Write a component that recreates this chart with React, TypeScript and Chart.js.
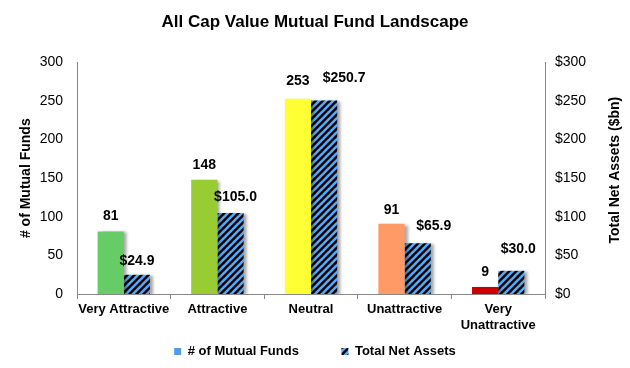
import React, { useEffect, useRef } from "react";
import { Chart, registerables } from "chart.js";

Chart.register(...registerables);

const categories: (string | string[])[] = [
  "Very Attractive",
  "Attractive",
  "Neutral",
  "Unattractive",
  ["Very", "Unattractive"],
];
const fundCounts = [81, 148, 253, 91, 9];
const netAssets = [24.9, 105.0, 250.7, 65.9, 30.0];
const leftTicks = [0, 50, 100, 150, 200, 250, 300];
const rightTicks = [0, 50, 100, 150, 200, 250, 300];
const barColors = ["#66CC66", "#99CC33", "#FFFF33", "#FF9966", "#CC0000"];

const FONT = "Arial, 'Liberation Sans', sans-serif";

function makeHatch(): CanvasPattern | string {
  const c = document.createElement("canvas");
  const s = 7;
  c.width = s;
  c.height = s;
  const ctx = c.getContext("2d");
  if (!ctx) return "#000";
  ctx.fillStyle = "#000000";
  ctx.fillRect(0, 0, s, s);
  ctx.strokeStyle = "#5AA8F5";
  ctx.lineWidth = 2.6;
  for (const k of [-s, 0, s]) {
    ctx.beginPath();
    ctx.moveTo(k - 1, s + 1);
    ctx.lineTo(k + s + 1, -1);
    ctx.stroke();
  }
  const p = ctx.createPattern(c, "repeat");
  return p || "#000";
}

const shadowPlugin = {
  id: "barShadow",
  beforeDatasetDraw(chart: any) {
    const ctx = chart.ctx;
    ctx.save();
    ctx.shadowColor = "rgba(0,0,0,0.35)";
    ctx.shadowBlur = 3;
    ctx.shadowOffsetX = 3;
    ctx.shadowOffsetY = 1;
  },
  afterDatasetDraw(chart: any) {
    chart.ctx.restore();
  },
};

const valueLabelPlugin = {
  id: "valueLabels",
  afterDatasetsDraw(chart: any, _args: any, opts: any) {
    const ctx = chart.ctx;
    ctx.save();
    ctx.font = `bold 14px ${FONT}`;
    ctx.fillStyle = "#000";
    ctx.textAlign = "center";
    ctx.textBaseline = "middle";
    chart.data.datasets.forEach((ds: any, di: number) => {
      const meta = chart.getDatasetMeta(di);
      const nudges = (opts.nudges && opts.nudges[di]) || [];
      meta.data.forEach((el: any, i: number) => {
        const v = ds.data[i];
        const txt = di === 0 ? String(v) : "$" + Number(v).toFixed(1);
        const n = nudges[i] || [0, 0];
        ctx.fillText(txt, el.x + n[0], el.y - 15 + n[1]);
      });
    });
    ctx.restore();
  },
};

const rightTitlePlugin = {
  id: "rightTitle",
  afterDraw(chart: any, _args: any, opts: any) {
    const ctx = chart.ctx;
    const s = chart.scales.y1;
    const area = chart.chartArea;
    ctx.save();
    ctx.font = `bold 14px ${FONT}`;
    ctx.fillStyle = "#000";
    ctx.textAlign = "center";
    ctx.textBaseline = "middle";
    ctx.translate(s.right - 15, (area.top + area.bottom) / 2 - 8);
    ctx.rotate(-Math.PI / 2);
    ctx.fillText(opts.text, 0, 0);
    ctx.restore();
  },
};

export default function App() {
  const ref = useRef<HTMLCanvasElement | null>(null);
  useEffect(() => {
    if (!ref.current) return;
    const hatch = makeHatch();
    const chart = new Chart(ref.current, {
      type: "bar",
      data: {
        labels: categories,
        datasets: [
          {
            label: "# of Mutual Funds",
            data: fundCounts,
            backgroundColor: barColors,
            yAxisID: "y",
            categoryPercentage: 0.56,
            barPercentage: 1,
          },
          {
            label: "Total Net Assets",
            data: netAssets,
            backgroundColor: hatch as any,
            yAxisID: "y1",
            categoryPercentage: 0.56,
            barPercentage: 1,
          },
        ],
      },
      options: {
        animation: false,
        responsive: false,
        maintainAspectRatio: false,
        layout: { padding: { left: 0, right: 0, top: 0, bottom: 0 } },
        plugins: {
          title: {
            display: true,
            text: "All Cap Value Mutual Fund Landscape",
            color: "#000",
            font: { family: FONT, size: 17, weight: "bold" },
            padding: { top: 12, bottom: 30 },
          },
          legend: {
            position: "bottom",
            labels: {
              color: "#000",
              font: { family: FONT, size: 13, weight: "bold" },
              boxWidth: 7,
              boxHeight: 7,
              padding: 10,
              generateLabels: () => [
                {
                  text: "# of Mutual Funds         ",
                  fillStyle: "#5599EE",
                  strokeStyle: "#5599EE",
                  lineWidth: 0,
                  datasetIndex: 0,
                  hidden: false,
                },
                {
                  text: "Total Net Assets",
                  fillStyle: hatch,
                  strokeStyle: "#000",
                  lineWidth: 0,
                  datasetIndex: 1,
                  hidden: false,
                },
              ],
            },
          },
          tooltip: { enabled: false },
          valueLabels: {
            nudges: [
              [[0, 0], [0, 0], [0, -3], [0, 1], [0, 0]],
              [[0, 1], [5, -1], [20, -7], [16, -2], [7, -7]],
            ],
          },
          rightTitle: { text: "Total Net Assets ($bn)" },
        } as any,
        scales: {
          x: {
            grid: {
              display: true,
              drawOnChartArea: false,
              drawTicks: true,
              tickLength: 5,
              color: "#888",
            },
            border: { display: true, color: "#888", width: 1 },
            ticks: {
              color: "#000",
              font: { family: FONT, size: 13, weight: "bold" },
              padding: 3,
              maxRotation: 0,
              autoSkip: false,
            },
            afterFit: (s: any) => {
              s.height = 41;
            },
          },
          y: {
            position: "left",
            min: 0,
            max: 300,
            afterBuildTicks: (s: any) => {
              s.ticks = leftTicks.map((v) => ({ value: v }));
            },
            grid: { display: false, drawTicks: false },
            border: { display: true, color: "#888", width: 1 },
            ticks: {
              color: "#000",
              font: { family: FONT, size: 14 },
              padding: 14,
              callback: (v: any) => String(v),
            },
            title: {
              display: true,
              text: "# of Mutual Funds",
              color: "#000",
              font: { family: FONT, size: 14, weight: "bold" },
              padding: { top: 18, bottom: 0 },
            },
            afterFit: (s: any) => {
              s.width = 77;
            },
          },
          y1: {
            position: "right",
            min: 0,
            max: 300,
            afterBuildTicks: (s: any) => {
              s.ticks = rightTicks.map((v) => ({ value: v }));
            },
            grid: { display: false, drawTicks: false },
            border: { display: true, color: "#888", width: 1 },
            ticks: {
              color: "#000",
              font: { family: FONT, size: 14 },
              padding: 10,
              callback: (v: any) => "$" + v,
            },
            title: { display: false },
            afterFit: (s: any) => {
              s.width = 85;
            },
          },
        },
      } as any,
      plugins: [shadowPlugin, valueLabelPlugin, rightTitlePlugin],
    });
    return () => chart.destroy();
  }, []);
  return (
    <div
      style={{
        position: "fixed",
        left: 0,
        top: 0,
        width: 630,
        height: 368,
        background: "#fff",
      }}
    >
      <canvas ref={ref} width={630} height={368} style={{ width: 630, height: 368 }} />
    </div>
  );
}
